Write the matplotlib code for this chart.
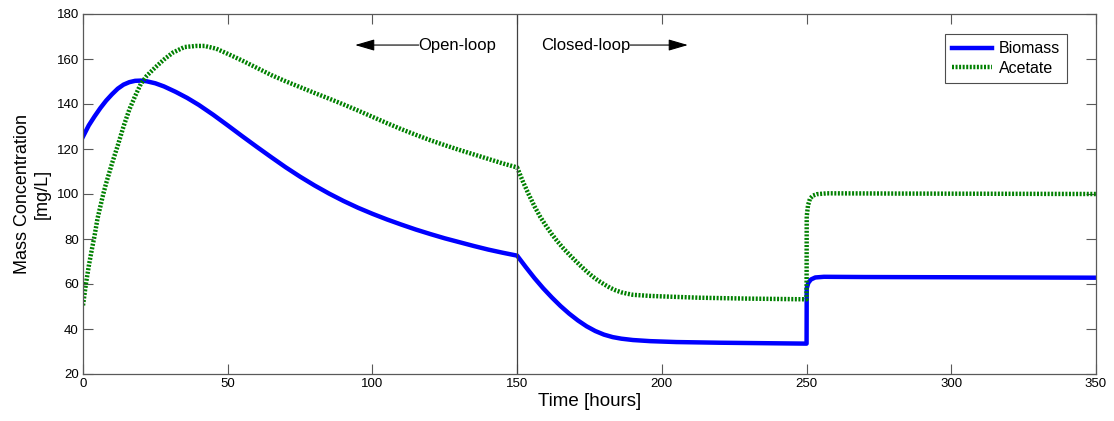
import matplotlib
matplotlib.use("Agg")
import matplotlib.pyplot as plt

plt.rcParams['font.family'] = ['Liberation Sans', 'DejaVu Sans']

# Biomass (blue)
t_bio = [0, 2, 4, 6, 8, 10, 12, 14, 16, 18, 20, 22, 25, 28, 32, 36, 40, 45, 50, 55,
         60, 65, 70, 75, 80, 85, 90, 95, 100, 105, 110, 115, 120, 125, 130, 135, 140, 145, 150,
         153, 156, 159, 162, 165, 168, 171, 174, 177, 180, 183, 186, 190, 196, 205, 220, 235, 250,
         250.05, 250.6, 251.5, 253, 256, 270, 300, 350]
biomass = [125.5, 130.5, 134.5, 138.2, 141.5, 144.3, 146.8, 148.6, 149.7, 150.3, 150.4, 150.1,
           149.2, 147.8, 145.4, 142.7, 139.6, 135.2, 130.5, 125.7,
           121.0, 116.4, 111.9, 107.7, 103.8, 100.2, 96.9, 93.9, 91.2, 88.7, 86.4, 84.2, 82.2, 80.3,
           78.6, 76.9, 75.3, 73.9, 72.6,
           67.5, 62.6, 58.1, 54, 50.2, 46.8, 43.8, 41.2, 39.1, 37.5, 36.4, 35.7, 35.1, 34.6, 34.2,
           33.9, 33.7, 33.5,
           58, 60.5, 62, 62.9, 63.2, 63.1, 63.0, 62.8]

# Acetate (green)
t_ace = [0, 1, 2, 3, 4, 5, 6, 7, 8, 10, 12, 14, 16, 18, 20, 22, 25, 28, 31, 35, 39, 42, 46,
         50, 55, 60, 65, 70, 75, 80, 85, 90, 95, 100, 105, 110, 115, 120, 125, 130, 135, 140, 145, 150,
         152, 154, 156, 158, 160, 162, 164, 166, 168, 170, 172, 174, 176, 178, 180, 182, 184, 186,
         188, 190, 196, 202, 213, 230, 250,
         250.05, 250.5, 251.2, 252.2, 253.5, 257, 280, 350]
acetate = [50.5, 60, 68, 75, 81.5, 89, 94.5, 100, 104.8, 113.5, 121.5, 130, 137.5, 143.5, 149,
           152.5, 156.3, 159.8, 162.8, 165.3, 165.8, 165.8, 164.6,
           162.3, 159.3, 156.1, 152.9, 150.1, 147.5, 144.9, 142.4, 139.8, 137.1, 134.3, 131.5,
           128.8, 126.3, 123.9, 121.7, 119.6, 117.6, 115.6, 113.6, 111.8,
           105.5, 99.8, 94.5, 89.8, 85.8, 82.1, 78.8, 75.8, 73.1, 70.5, 68, 65.6, 63.4, 61.5,
           59.9, 58.4, 57.2, 56.3, 55.7, 55.2, 54.7, 54.4, 53.9, 53.5, 53.2,
           90, 95, 98, 99.3, 99.9, 100.3, 100.2, 100]

fig = plt.figure(figsize=(11.14, 4.21), dpi=100)
ax = fig.add_axes([83/1114, 1-374/421, (1096-83)/1114, (374-14)/421])

ax.plot(t_bio, biomass, color=(0, 0, 1), lw=3.2, label='Biomass', solid_joinstyle='round')
ax.plot(t_ace, acetate, color=(0, 0.5, 0), lw=3.2, linestyle=(0, (0.45, 0.35)),
        dash_capstyle='butt', label='Acetate')

ax.axvline(150, color='0.25', lw=0.9)

ax.set_xlim(0, 350)
ax.set_ylim(20, 180)
ax.set_xticks(range(0, 351, 50))
ax.set_yticks(range(20, 181, 20))
ax.tick_params(direction='in', length=7, width=0.8, top=True, right=True,
               labelsize=9.5, pad=3, color='0.35')
for s in ax.spines.values():
    s.set_color('0.35')
    s.set_linewidth(0.9)

ax.set_xlabel('Time [hours]', fontsize=13.5, labelpad=2)
ax.set_ylabel('Mass Concentration\n[mg/L]', fontsize=13, labelpad=4, multialignment='center')

arrow_kw = dict(arrowstyle='-|>,head_length=1.2,head_width=0.35', color='k', lw=0.8,
                shrinkA=0, shrinkB=0)
ax.annotate('', xy=(94, 166.2), xytext=(116, 166.2), arrowprops=arrow_kw)
ax.text(115.8, 166.2, 'Open-loop', fontsize=12, va='center', ha='left')
ax.text(158.3, 166.2, 'Closed-loop', fontsize=12, va='center', ha='left')
ax.annotate('', xy=(209, 166.2), xytext=(189, 166.2), arrowprops=arrow_kw)

leg = ax.legend(loc='upper right', bbox_to_anchor=((1067-83)/1013, 1-(34-14)/360),
                borderaxespad=0, fontsize=11.5, handlelength=2.5, fancybox=False,
                framealpha=1, edgecolor='0.3', borderpad=0.45, labelspacing=0.3,
                handletextpad=0.4)
leg.get_frame().set_linewidth(0.8)

fig.savefig('out.png', dpi=100)
